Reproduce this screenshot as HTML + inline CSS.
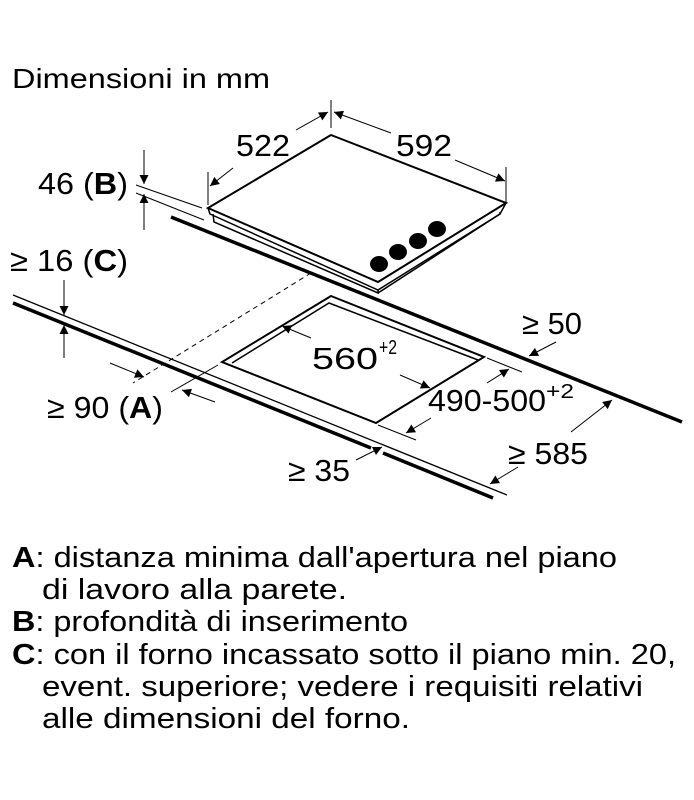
<!DOCTYPE html>
<html><head><meta charset="utf-8"><style>
html,body{margin:0;padding:0;background:#fff;}
svg{display:block;}
text{font-family:"Liberation Sans",sans-serif;fill:#000;}
</style></head><body>
<svg width="694" height="800" viewBox="0 0 694 800" xmlns="http://www.w3.org/2000/svg">
<defs>
<marker id="ar" viewBox="0 0 10 10" refX="10" refY="5" markerWidth="12" markerHeight="9" markerUnits="userSpaceOnUse" orient="auto"><path d="M0,0 L10,5 L0,10 z" fill="#000"/></marker>
</defs>
<text x="12" y="88" font-size="28" textLength="258" lengthAdjust="spacingAndGlyphs">Dimensioni in mm</text>

<g stroke="#000" fill="none">
<line x1="171" y1="217" x2="682" y2="422" stroke-width="3.5"/>
<line x1="13" y1="295" x2="507" y2="495" stroke-width="1.3"/>
<line x1="13" y1="303" x2="371" y2="448" stroke-width="3.5"/>
<line x1="383" y1="453" x2="493" y2="498" stroke-width="3.5"/>
<polygon points="331,135 506,203 378,282 208,208" fill="#fff" stroke-width="2"/>
<polyline points="208,208 210,214 378,290 500,214 506,203" stroke-width="1.5"/>
<polyline points="213,214 214,222 378,293 378,290" stroke-width="1.5"/>
<polyline points="378,293 500,214 500,212" stroke-width="1.5"/>
<polygon points="331,296 484,357 376,423 222,362" stroke-width="2"/>
<polyline points="232,363 329,303 478,360" stroke-width="1.5"/>
<line x1="311" y1="273" x2="133" y2="383" stroke-width="1" stroke-dasharray="5,4"/>
<line x1="218" y1="365" x2="171" y2="392" stroke-width="1"/>

<line x1="331" y1="100" x2="331" y2="128" stroke-width="1"/>
<line x1="208" y1="172" x2="208" y2="205" stroke-width="1"/>
<line x1="506" y1="167" x2="506" y2="202" stroke-width="1"/>
<line x1="296" y1="130" x2="328" y2="112" stroke-width="1" marker-end="url(#ar)"/>
<line x1="233" y1="168" x2="210" y2="186" stroke-width="1" marker-end="url(#ar)"/>
<line x1="391" y1="133" x2="334" y2="112" stroke-width="1" marker-end="url(#ar)"/>
<line x1="455" y1="160" x2="505" y2="181" stroke-width="1" marker-end="url(#ar)"/>
<line x1="136" y1="185" x2="202" y2="208" stroke-width="1"/>
<line x1="136" y1="193" x2="204" y2="220" stroke-width="1"/>
<line x1="144" y1="150" x2="144" y2="184" stroke-width="1" marker-end="url(#ar)"/>
<line x1="144" y1="230" x2="144" y2="194" stroke-width="1" marker-end="url(#ar)"/>
<line x1="64" y1="280" x2="64" y2="315" stroke-width="1" marker-end="url(#ar)"/>
<line x1="64" y1="358" x2="64" y2="325" stroke-width="1" marker-end="url(#ar)"/>
<line x1="110" y1="363" x2="144" y2="377" stroke-width="1" marker-end="url(#ar)"/>
<line x1="215" y1="402" x2="182" y2="390" stroke-width="1" marker-end="url(#ar)"/>
<line x1="311" y1="338" x2="282" y2="326" stroke-width="1" marker-end="url(#ar)"/>
<line x1="400" y1="375" x2="430" y2="388" stroke-width="1" marker-end="url(#ar)"/>
<line x1="487" y1="358" x2="522" y2="372" stroke-width="1"/>
<line x1="378" y1="425" x2="416" y2="440" stroke-width="1"/>
<line x1="487" y1="383" x2="509" y2="369" stroke-width="1" marker-end="url(#ar)"/>
<line x1="431" y1="418" x2="406" y2="433" stroke-width="1" marker-end="url(#ar)"/>
<line x1="556" y1="342" x2="529" y2="356" stroke-width="1" marker-end="url(#ar)"/>
<line x1="571" y1="432" x2="612" y2="400" stroke-width="1" marker-end="url(#ar)"/>
<line x1="518" y1="467" x2="490" y2="484" stroke-width="1" marker-end="url(#ar)"/>
<line x1="356" y1="460" x2="382" y2="447" stroke-width="1" marker-end="url(#ar)"/>
</g>
<g fill="#000">
<ellipse cx="379" cy="264" rx="9" ry="8"/>
<ellipse cx="398" cy="252" rx="9" ry="8"/>
<ellipse cx="418" cy="241" rx="9" ry="8"/>
<ellipse cx="437" cy="229" rx="9" ry="8"/>
</g>

<g font-size="31">
<text x="236" y="156" textLength="54" lengthAdjust="spacingAndGlyphs">522</text>
<text x="396" y="156" textLength="56" lengthAdjust="spacingAndGlyphs">592</text>
<text x="38" y="194" textLength="90" lengthAdjust="spacingAndGlyphs">46 (<tspan font-weight="bold">B</tspan>)</text>
<text x="10" y="271" textLength="118" lengthAdjust="spacingAndGlyphs">≥ 16 (<tspan font-weight="bold">C</tspan>)</text>
<text x="47" y="418" textLength="116" lengthAdjust="spacingAndGlyphs">≥ 90 (<tspan font-weight="bold">A</tspan>)</text>
<text x="312" y="369" textLength="66" lengthAdjust="spacingAndGlyphs">560</text>
<text x="379" y="354" font-size="20" textLength="18" lengthAdjust="spacingAndGlyphs">+2</text>
<text x="428" y="411" textLength="118" lengthAdjust="spacingAndGlyphs">490-500</text>
<text x="546" y="398" font-size="20" textLength="28" lengthAdjust="spacingAndGlyphs">+2</text>
<text x="522" y="334" textLength="60" lengthAdjust="spacingAndGlyphs">≥ 50</text>
<text x="508" y="464" textLength="80" lengthAdjust="spacingAndGlyphs">≥ 585</text>
<text x="288" y="481" textLength="62" lengthAdjust="spacingAndGlyphs">≥ 35</text>
</g>

<g font-size="29">
<text x="12" y="567" textLength="605" lengthAdjust="spacingAndGlyphs"><tspan font-weight="bold">A</tspan>: distanza minima dall'apertura nel piano</text>
<text x="42" y="599" textLength="305" lengthAdjust="spacingAndGlyphs">di lavoro alla parete.</text>
<text x="12" y="631" textLength="396" lengthAdjust="spacingAndGlyphs"><tspan font-weight="bold">B</tspan>: profondità di inserimento</text>
<text x="12" y="664" textLength="664" lengthAdjust="spacingAndGlyphs"><tspan font-weight="bold">C</tspan>: con il forno incassato sotto il piano min. 20,</text>
<text x="42" y="696" textLength="601" lengthAdjust="spacingAndGlyphs">event. superiore; vedere i requisiti relativi</text>
<text x="42" y="728" textLength="368" lengthAdjust="spacingAndGlyphs">alle dimensioni del forno.</text>
</g>
</svg>
</body></html>
